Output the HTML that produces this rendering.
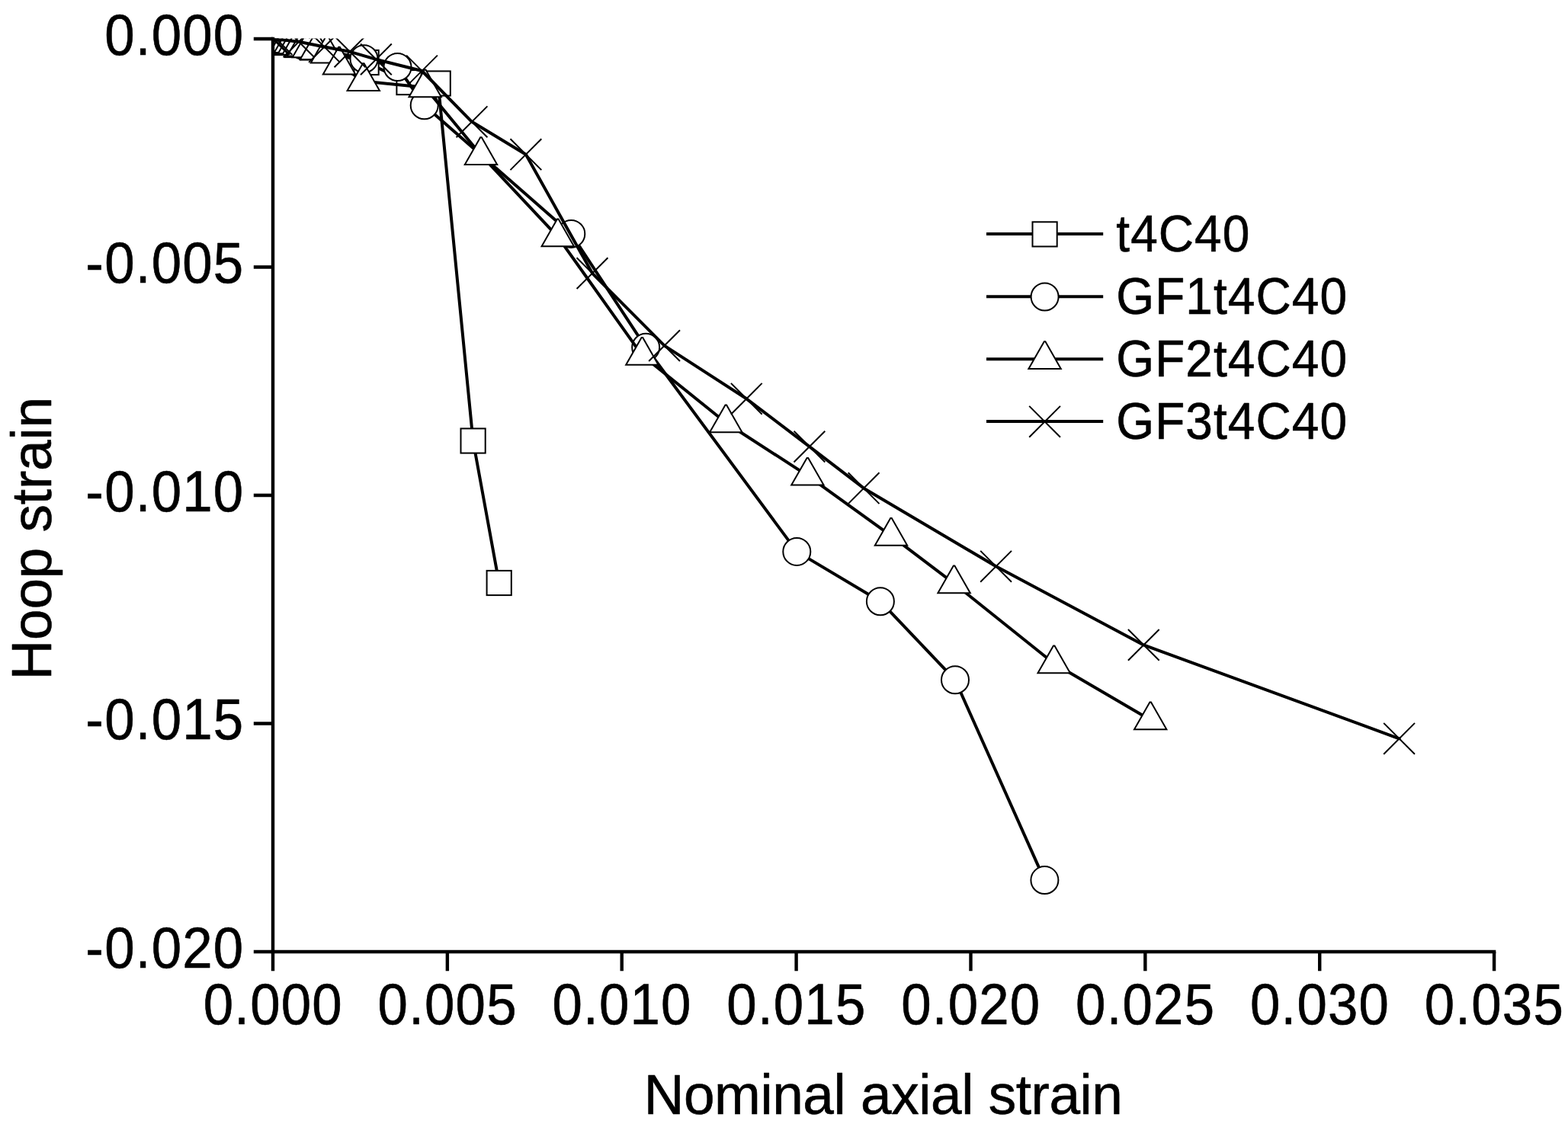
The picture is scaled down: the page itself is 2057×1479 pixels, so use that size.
<!DOCTYPE html>
<html lang="en">
<head>
<meta charset="utf-8">
<title>Hoop strain vs nominal axial strain</title>
<style>
html,body{margin:0;padding:0;background:#fff;}
body{width:2057px;height:1479px;overflow:hidden;}
svg{display:block;}
text{font-family:"Liberation Sans",sans-serif;fill:#000;stroke:#000;stroke-width:0.6px;stroke-linejoin:round;}
.tick{font-size:73px;}
.title{font-size:73px;}
.leg{font-size:66px;}
.ax{stroke:#000;stroke-width:4.4;fill:none;stroke-linecap:butt;}
.ln{stroke:#000;stroke-width:4;fill:none;stroke-linejoin:round;stroke-linecap:round;}
.lg{stroke-linecap:butt;}
.mk{stroke:#000;stroke-width:2;fill:#fff;stroke-linejoin:miter;}
</style>
</head>
<body>
<svg width="2057" height="1479" viewBox="0 0 2057 1479">
<rect x="0" y="0" width="2057" height="1479" fill="#fff"/>

<defs><clipPath id="plot"><rect x="358" y="50.6" width="1604.1" height="1198.4"/></clipPath></defs>
<g clip-path="url(#plot)">
<g class="s sq">
<polyline class="ln" points="357.8,52 362,53 367,54.1 376,56 390,59 410,62.5 480.6,82 536.5,108.1 574.7,109.5 620.6,578.5 654.7,765"/>
<g class="mk">
<rect x="341.7" y="35.9" width="32.2" height="32.2"/>
<rect x="345.9" y="36.9" width="32.2" height="32.2"/>
<rect x="350.9" y="38" width="32.2" height="32.2"/>
<rect x="359.9" y="39.9" width="32.2" height="32.2"/>
<rect x="373.9" y="42.9" width="32.2" height="32.2"/>
<rect x="393.9" y="46.4" width="32.2" height="32.2"/>
<rect x="464.5" y="65.9" width="32.2" height="32.2"/>
<rect x="520.4" y="92" width="32.2" height="32.2"/>
<rect x="558.6" y="93.4" width="32.2" height="32.2"/>
<rect x="604.5" y="562.4" width="32.2" height="32.2"/>
<rect x="638.6" y="748.9" width="32.2" height="32.2"/>
</g></g>
<g class="s ci">
<polyline class="ln" points="357.8,51.5 365,52.6 378,55 397,59.5 477.5,77.2 521.5,88 556.7,138.3 749.3,306.9 847.2,455.8 1045.3,723.9 1154.9,789.2 1253,892.3 1370.4,1155.1"/>
<g class="mk">
<circle cx="357.8" cy="51.5" r="18"/>
<circle cx="365" cy="52.6" r="18"/>
<circle cx="378" cy="55" r="18"/>
<circle cx="397" cy="59.5" r="18"/>
<circle cx="477.5" cy="77.2" r="18"/>
<circle cx="521.5" cy="88" r="18"/>
<circle cx="556.7" cy="138.3" r="18"/>
<circle cx="749.3" cy="306.9" r="18"/>
<circle cx="847.2" cy="455.8" r="18"/>
<circle cx="1045.3" cy="723.9" r="18"/>
<circle cx="1154.9" cy="789.2" r="18"/>
<circle cx="1253" cy="892.3" r="18"/>
<circle cx="1370.4" cy="1155.1" r="18"/>
</g></g>
<g class="s tr">
<polyline class="ln" points="358,51 362,51.8 366.5,52.8 371,53.9 376,55.1 381,56.4 386,57.7 391.5,59.2 398,60.9 404.9,62.8 415,65.5 429,70 445,85 476.8,106.5 557.7,114.8 631,203.5 731.8,310.8 842.4,466.3 952.3,554.7 1059.4,624.1 1169,703.2 1251.6,765.7 1382.7,870.8 1509.2,944.8"/>
<g class="mk">
<polygon points="357.2,27.8 358.8,27.8 379.2,63.5 336.8,63.5"/>
<polygon points="361.2,28.6 362.8,28.6 383.2,64.3 340.8,64.3"/>
<polygon points="365.7,29.6 367.3,29.6 387.7,65.3 345.3,65.3"/>
<polygon points="370.2,30.7 371.8,30.7 392.2,66.4 349.8,66.4"/>
<polygon points="375.2,31.9 376.8,31.9 397.2,67.6 354.8,67.6"/>
<polygon points="380.2,33.2 381.8,33.2 402.2,68.9 359.8,68.9"/>
<polygon points="385.2,34.5 386.8,34.5 407.2,70.2 364.8,70.2"/>
<polygon points="390.7,36 392.3,36 412.7,71.7 370.3,71.7"/>
<polygon points="397.2,37.7 398.8,37.7 419.2,73.4 376.8,73.4"/>
<polygon points="404.1,39.6 405.7,39.6 426.1,75.3 383.7,75.3"/>
<polygon points="414.2,42.3 415.8,42.3 436.2,78 393.8,78"/>
<polygon points="428.2,46.8 429.8,46.8 450.2,82.5 407.8,82.5"/>
<polygon points="444.2,61.8 445.8,61.8 466.2,97.5 423.8,97.5"/>
<polygon points="476,83.3 477.6,83.3 498,119 455.6,119"/>
<polygon points="556.9,91.6 558.5,91.6 578.9,127.3 536.5,127.3"/>
<polygon points="630.2,180.3 631.8,180.3 652.2,216 609.8,216"/>
<polygon points="731,287.6 732.6,287.6 753,323.3 710.6,323.3"/>
<polygon points="841.6,443.1 843.2,443.1 863.6,478.8 821.2,478.8"/>
<polygon points="951.5,531.5 953.1,531.5 973.5,567.2 931.1,567.2"/>
<polygon points="1058.6,600.9 1060.2,600.9 1080.6,636.6 1038.2,636.6"/>
<polygon points="1168.2,680 1169.8,680 1190.2,715.7 1147.8,715.7"/>
<polygon points="1250.8,742.5 1252.4,742.5 1272.8,778.2 1230.4,778.2"/>
<polygon points="1381.9,847.6 1383.5,847.6 1403.9,883.3 1361.5,883.3"/>
<polygon points="1508.4,921.6 1510,921.6 1530.4,957.3 1488,957.3"/>
</g></g>
<g class="s cr">
<polyline class="ln" points="357.8,51 360,51.2 363,51.5 392,54.8 425.5,61.5 459,67.8 493.4,77.9 553.5,93 619,159.8 689.9,202.7 777,358.6 871.6,453.6 979.3,523.3 1061.9,586.1 1133.1,640.7 1306.6,743.3 1500.3,846.4 1835.6,969.3"/>
<g class="mk">
<path d="M337.4 30.6L378.2 71.4M337.4 71.4L378.2 30.6"/>
<path d="M339.6 30.8L380.4 71.6M339.6 71.6L380.4 30.8"/>
<path d="M342.6 31.1L383.4 71.9M342.6 71.9L383.4 31.1"/>
<path d="M371.6 34.4L412.4 75.2M371.6 75.2L412.4 34.4"/>
<path d="M405.1 41.1L445.9 81.9M405.1 81.9L445.9 41.1"/>
<path d="M438.6 47.4L479.4 88.2M438.6 88.2L479.4 47.4"/>
<path d="M473 57.5L513.8 98.3M473 98.3L513.8 57.5"/>
<path d="M533.1 72.6L573.9 113.4M533.1 113.4L573.9 72.6"/>
<path d="M598.6 139.4L639.4 180.2M598.6 180.2L639.4 139.4"/>
<path d="M669.5 182.3L710.3 223.1M669.5 223.1L710.3 182.3"/>
<path d="M756.6 338.2L797.4 379M756.6 379L797.4 338.2"/>
<path d="M851.2 433.2L892 474M851.2 474L892 433.2"/>
<path d="M958.9 502.9L999.7 543.7M958.9 543.7L999.7 502.9"/>
<path d="M1041.5 565.7L1082.3 606.5M1041.5 606.5L1082.3 565.7"/>
<path d="M1112.7 620.3L1153.5 661.1M1112.7 661.1L1153.5 620.3"/>
<path d="M1286.2 722.9L1327 763.7M1286.2 763.7L1327 722.9"/>
<path d="M1479.9 826L1520.7 866.8M1479.9 866.8L1520.7 826"/>
<path d="M1815.2 948.9L1856 989.7M1815.2 989.7L1856 948.9"/>
</g></g>
</g>
<g><path class="ax" d="M358 48.8V1251.2"/>
<path class="ax" d="M355.8 1249H1962.3"/>
<path class="ax" d="M358 51H332.8M358 350.5H332.8M358 650H332.8M358 949.5H332.8M358 1249H332.8M358 1249V1274.2M586.87 1249V1274.2M815.74 1249V1274.2M1044.61 1249V1274.2M1273.49 1249V1274.2M1502.36 1249V1274.2M1731.23 1249V1274.2M1960.1 1249V1274.2"/></g>
<text class="tick" transform="translate(320.4 71.6) scale(0.97 1.048)" text-anchor="end" letter-spacing="1.25">0.000</text>
<text class="tick" transform="translate(320.4 371.1) scale(0.97 1.048)" text-anchor="end" letter-spacing="1.25">-0.005</text>
<text class="tick" transform="translate(320.4 670.6) scale(0.97 1.048)" text-anchor="end" letter-spacing="1.25">-0.010</text>
<text class="tick" transform="translate(320.4 970.1) scale(0.97 1.048)" text-anchor="end" letter-spacing="1.25">-0.015</text>
<text class="tick" transform="translate(320.4 1269.6) scale(0.97 1.048)" text-anchor="end" letter-spacing="1.25">-0.020</text>
<text class="tick" transform="translate(358.3 1344.2) scale(0.97 1.048)" text-anchor="middle" letter-spacing="1.25">0.000</text>
<text class="tick" transform="translate(587.17 1344.2) scale(0.97 1.048)" text-anchor="middle" letter-spacing="1.25">0.005</text>
<text class="tick" transform="translate(816.04 1344.2) scale(0.97 1.048)" text-anchor="middle" letter-spacing="1.25">0.010</text>
<text class="tick" transform="translate(1044.91 1344.2) scale(0.97 1.048)" text-anchor="middle" letter-spacing="1.25">0.015</text>
<text class="tick" transform="translate(1273.79 1344.2) scale(0.97 1.048)" text-anchor="middle" letter-spacing="1.25">0.020</text>
<text class="tick" transform="translate(1502.66 1344.2) scale(0.97 1.048)" text-anchor="middle" letter-spacing="1.25">0.025</text>
<text class="tick" transform="translate(1731.53 1344.2) scale(0.97 1.048)" text-anchor="middle" letter-spacing="1.25">0.030</text>
<text class="tick" transform="translate(1960.4 1344.2) scale(0.97 1.048)" text-anchor="middle" letter-spacing="1.25">0.035</text>
<text class="title" transform="translate(1158.6 1462.4) scale(1 1.015)" text-anchor="middle" letter-spacing="-0.45">Nominal axial strain</text>
<text class="title" transform="translate(67.3 706.8) rotate(-90) scale(1 1.015)" text-anchor="middle" letter-spacing="-0.15">Hoop strain</text>
<g><path class="ln lg" d="M1294 307.1H1447.2"/>
<g class="mk"><rect x="1354.5" y="291.3" width="32.2" height="32.2"/></g>
<text class="leg" transform="translate(1464.3 329.9) scale(0.97 1.048)" letter-spacing="1.1">t4C40</text>
<path class="ln lg" d="M1294 389.2H1447.2"/>
<g class="mk"><circle cx="1370.6" cy="389.5" r="18"/></g>
<text class="leg" transform="translate(1464.3 412) scale(0.97 1.048)" letter-spacing="1.1">GF1t4C40</text>
<path class="ln lg" d="M1294 471.2H1447.2"/>
<g class="mk"><polygon points="1369.8,448.3 1371.4,448.3 1391.8,484 1349.4,484"/></g>
<text class="leg" transform="translate(1464.3 494) scale(0.97 1.048)" letter-spacing="1.1">GF2t4C40</text>
<path class="ln lg" d="M1294 553H1447.2"/>
<g class="mk"><path d="M1350.2 532.9L1391 573.7M1350.2 573.7L1391 532.9"/></g>
<text class="leg" transform="translate(1464.3 575.8) scale(0.97 1.048)" letter-spacing="1.1">GF3t4C40</text></g>
</svg>
</body>
</html>
